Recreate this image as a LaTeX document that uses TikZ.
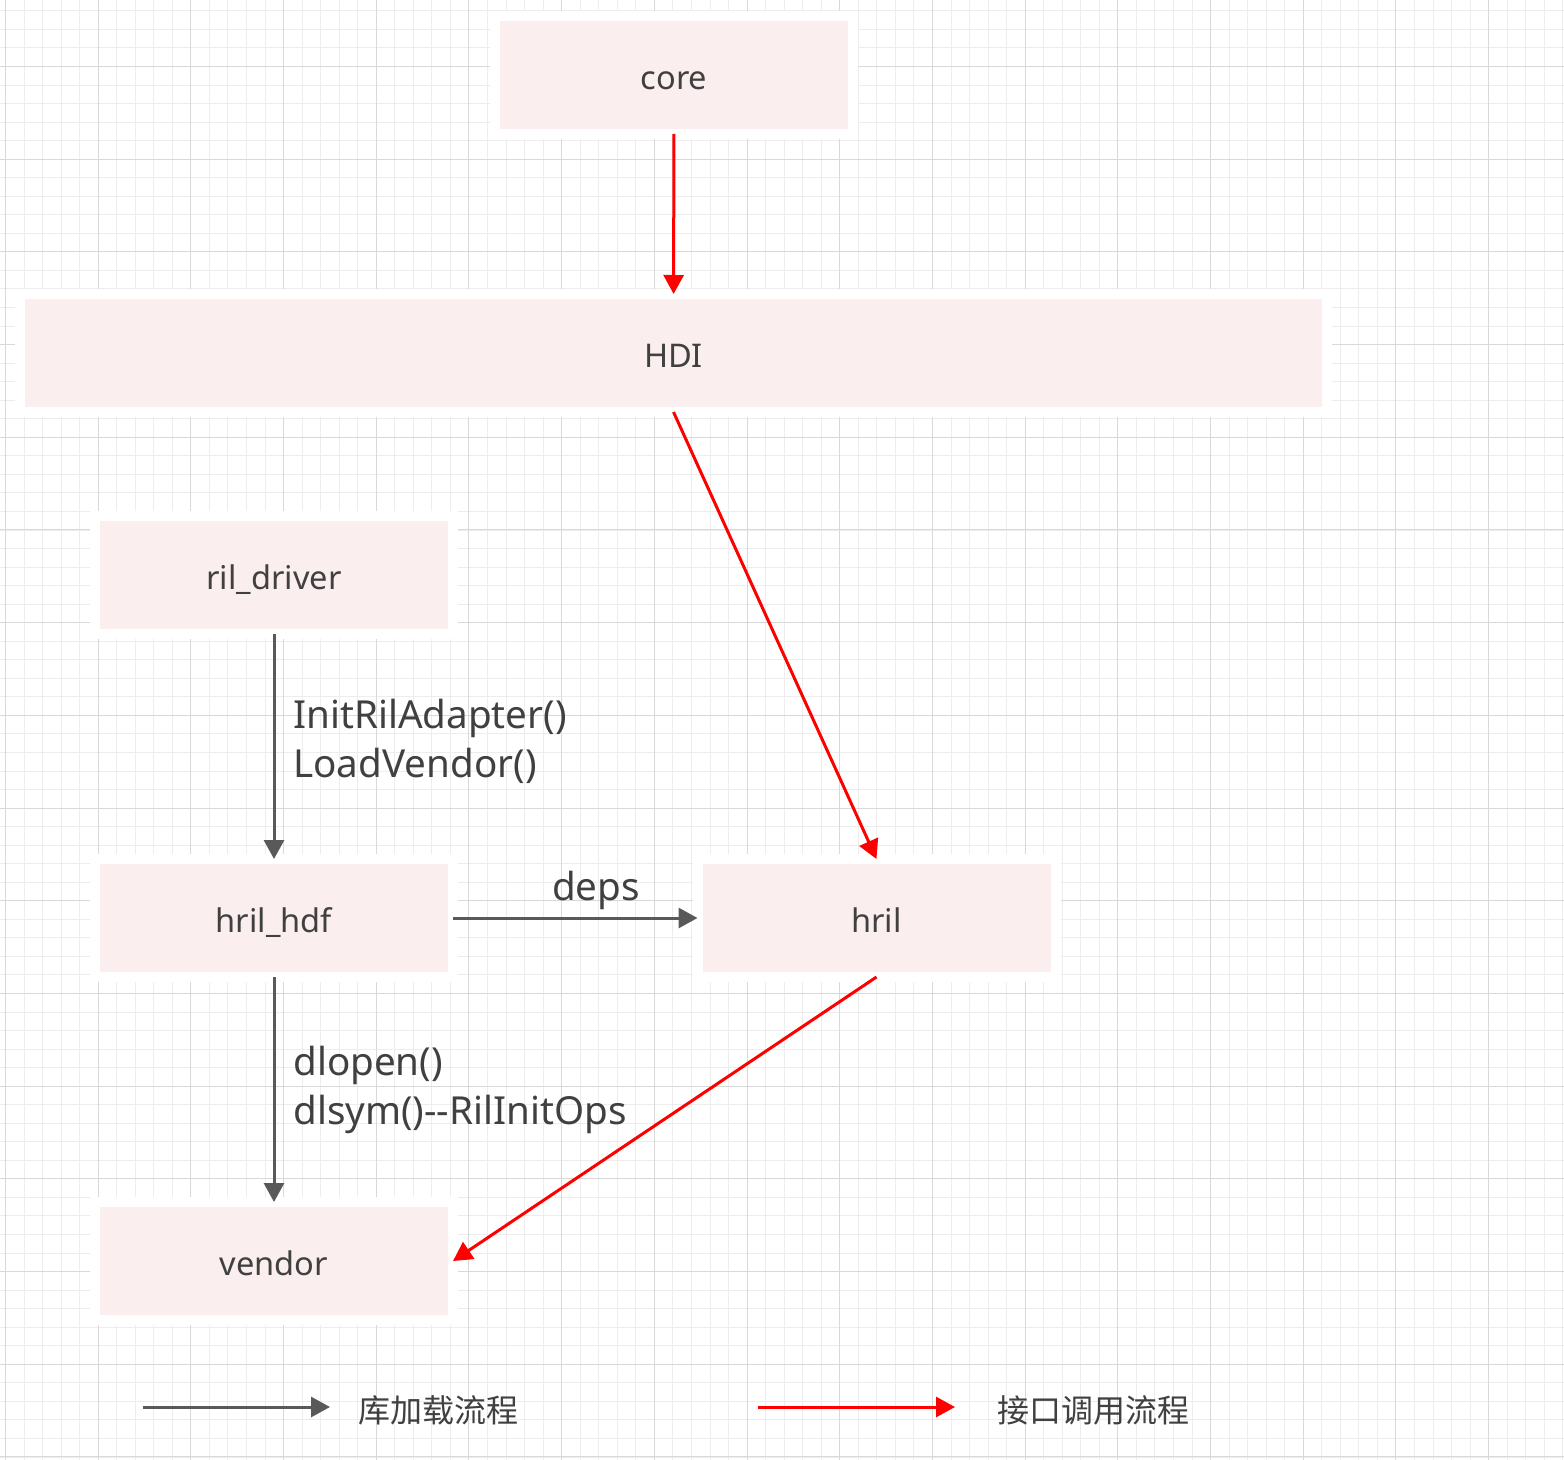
\documentclass[tikz,border=0pt]{standalone}
\usepackage{fontspec}
\setmainfont{Noto Sans}
\newfontfamily\cjk{Noto Sans CJK SC}
\usetikzlibrary{arrows.meta}
\definecolor{boxfill}{HTML}{FBEEEE}
\definecolor{txt}{HTML}{404040}
\definecolor{garrow}{HTML}{595959}
\definecolor{rarrow}{HTML}{FF0000}
\definecolor{gminor}{HTML}{EDEDED}
\definecolor{gmajor}{HTML}{D9D9D9}
\tikzset{
  box/.style={fill=boxfill, draw=white, line width=5pt, outer sep=0pt, inner sep=0pt,
    minimum width=179pt, minimum height=59pt, text=txt, text height=14.5pt, text depth=0pt,
    font=\fontsize{16.3}{19}\selectfont},
  lbl/.style={text=txt, inner sep=0pt, font=\fontsize{19.3}{24.5}\selectfont, align=left},
  leg/.style={text=txt, inner sep=0pt, font=\cjk\fontsize{16}{19}\selectfont},
  tip/.style={-{Triangle[length=9.5pt,width=10pt]}},
  gline/.style={draw=garrow, line width=1.5pt, tip},
  rline/.style={draw=rarrow, line width=1.5pt, tip},
  gridline/.style={line width=0.5pt},
}
\begin{document}
\begin{tikzpicture}[x=0.5pt,y=-0.5pt]
\useasboundingbox (0,0) rectangle (1564,1460);
\fill[white] (0,0) rectangle (1564,1460);
% grid
\foreach \i in {0,...,84} {\pgfmathsetmacro{\xx}{round(5+18.54*\i)+0.5}
  \draw[gridline, gminor] (\xx,0) -- (\xx,1460);}
\foreach \j in {0,...,78} {\pgfmathsetmacro{\yy}{round(10.4+18.54*\j)+0.5}
  \draw[gridline, gminor] (0,\yy) -- (1564,\yy);}
\foreach \i in {0,...,16} {\pgfmathsetmacro{\xx}{round(5+92.7*\i)+0.5}
  \draw[gridline, gmajor] (\xx,0) -- (\xx,1460);}
\foreach \j in {0,...,15} {\pgfmathsetmacro{\yy}{round(66+92.7*\j)+0.5}
  \draw[gridline, gmajor] (0,\yy) -- (1564,\yy);}
% boxes
\node[box] (core) at (674,75) {core};
\node[box, minimum width=653.5pt] (HDI) at (673.5,353) {HDI};
\node[box] (rild) at (274,575) {ril\_driver};
\node[box] (hrilhdf) at (274,918) {hril\_hdf};
\node[box] (hril) at (876.5,918) {hril};
\node[box] (vendor) at (274,1261) {vendor};
% connectors
\draw[rline] (core) -- (HDI);
\draw[rline] (HDI.south) -- (hril.north);
\draw[rline] (hril.south) -- (vendor.east);
\draw[gline] (rild) -- (hrilhdf);
\draw[gline] (hrilhdf) -- (vendor);
\draw[gline] (hrilhdf) -- (hril);
% labels
\node[lbl, anchor=west] (l1) at (293,741) {InitRilAdapter()\\LoadVendor()};
\node[lbl, anchor=west] (l2) at (293,1090) {dlopen()\\dlsym(){-}{-}RilInitOps};
\node[lbl] (l3) at (596,890) {deps};
% legend
\coordinate (ga) at (143,1407);
\coordinate (gb) at (330,1407);
\coordinate (ra) at (758,1407);
\coordinate (rb) at (955,1407);
\draw[gline] (ga) -- (gb);
\draw[rline] (ra) -- (rb);
\node[leg, anchor=west] (t1) at (358,1410) {库加载流程};
\node[leg, anchor=west] (t2) at (997,1410) {接口调用流程};
\end{tikzpicture}
\end{document}
